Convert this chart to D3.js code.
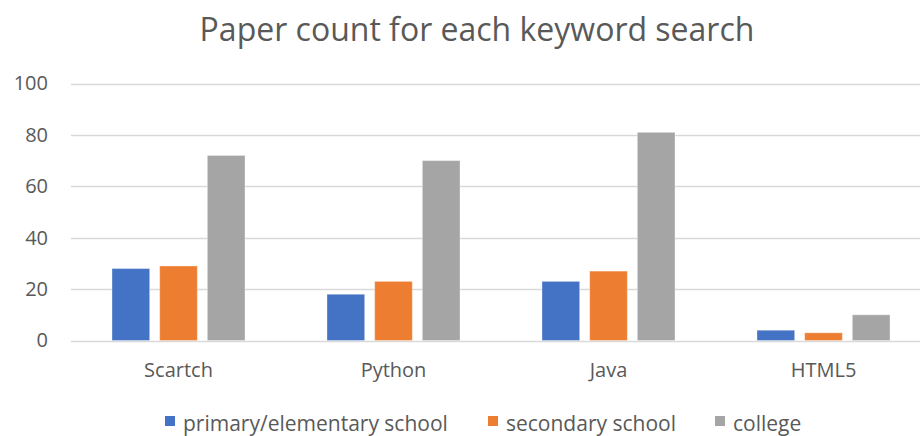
<!DOCTYPE html>
<html>
<head>
<meta charset="utf-8">
<script src="https://cdn.jsdelivr.net/npm/d3@7"></script>
<style>
  html, body { margin: 0; padding: 0; background: #fff; }
  svg { display: block; font-family: "Open Sans", "Noto Sans", sans-serif; }
</style>
</head>
<body>
<svg id="chart" width="920" height="436"></svg>
<script>
// Paper counts per keyword, split by education level
const categories = ["Scartch", "Python", "Java", "HTML5"];
const seriesNames = ["primary/elementary school", "secondary school", "college"];
const primaryValues = [28, 18, 23, 4];
const secondaryValues = [29, 23, 27, 3];
const collegeValues = [72, 70, 81, 10];
const yTicks = [0, 20, 40, 60, 80, 100];
const colors = ["#4472C4", "#ED7D31", "#A5A5A5"];

const seriesValues = [primaryValues, secondaryValues, collegeValues];
const rows = categories.map((c, i) => ({
  category: c,
  values: seriesNames.map((s, k) => ({ series: s, k, value: seriesValues[k][i] }))
}));

const svg = d3.select("#chart");
const plotLeft = 71, step = 215;

const x = d3.scaleBand()
  .domain(categories)
  .range([plotLeft, plotLeft + step * categories.length])
  .padding(0);

const xInner = d3.scaleBand()
  .domain(seriesNames)
  .range([41, 174])
  .paddingInner(0.21)
  .paddingOuter(0);

const y = d3.scaleLinear().domain([0, 100]).range([340.5, 83.5]);

// Title
svg.append("text")
  .attr("x", 477).attr("y", 41)
  .attr("text-anchor", "middle")
  .attr("font-size", 32)
  .attr("fill", "#595959")
  .text("Paper count for each keyword search");

// Horizontal gridlines
svg.append("g")
  .selectAll("line")
  .data(yTicks)
  .join("line")
  .attr("x1", plotLeft).attr("x2", 940)
  .attr("y1", d => Math.round(y(d)) + 0.5)
  .attr("y2", d => Math.round(y(d)) + 0.5)
  .attr("stroke", "#D9D9D9")
  .attr("stroke-width", 1.3);

// Y-axis labels
const yAxis = d3.axisLeft(y).tickValues(yTicks).tickSize(0).tickPadding(0);
svg.append("g")
  .attr("transform", "translate(48,0)")
  .call(yAxis)
  .call(g => g.select(".domain").remove())
  .call(g => g.selectAll("text")
    .attr("font-size", 20)
    .attr("font-family", "'Open Sans', sans-serif")
    .attr("fill", "#595959"));

// Bars
const groups = svg.append("g")
  .selectAll("g")
  .data(rows)
  .join("g")
  .attr("transform", d => `translate(${x(d.category)},0)`);

groups.selectAll("rect")
  .data(d => d.values)
  .join("rect")
  .attr("x", d => xInner(d.series))
  .attr("width", xInner.bandwidth())
  .attr("y", d => y(d.value))
  .attr("height", d => y(0) - y(d.value))
  .attr("fill", d => colors[d.k])
  .attr("stroke", "#ffffff")
  .attr("stroke-opacity", 0.35)
  .attr("stroke-width", 1);

// Category labels
const xAxis = d3.axisBottom(x).tickSize(0).tickPadding(0);
svg.append("g")
  .attr("transform", "translate(0,363)")
  .call(xAxis)
  .call(g => g.select(".domain").remove())
  .call(g => g.selectAll("text")
    .attr("font-size", 20)
    .attr("font-family", "'Open Sans', sans-serif")
    .attr("fill", "#595959"));

// Legend
const legendX = [165, 488, 715];
const legend = svg.append("g")
  .selectAll("g")
  .data(seriesNames)
  .join("g")
  .attr("transform", (d, i) => `translate(${legendX[i]},0)`);

legend.append("rect")
  .attr("x", 0).attr("y", 416)
  .attr("width", 10).attr("height", 10)
  .attr("fill", (d, i) => colors[i]);

legend.append("text")
  .attr("x", 18).attr("y", 431)
  .attr("font-size", 21)
  .attr("fill", "#595959")
  .text(d => d);
</script>
</body>
</html>
